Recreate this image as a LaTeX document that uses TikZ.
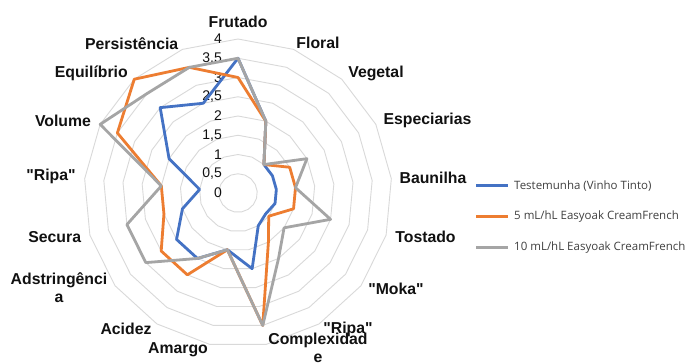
\documentclass[tikz,border=0pt]{standalone}
\usepackage{fontspec}
\setmainfont{Liberation Sans}[Ligatures=TeXOff]
\newfontfamily\legfont{Open Sans}
\definecolor{sblue}{HTML}{4472C4}
\definecolor{sorange}{HTML}{ED7D31}
\definecolor{sgray}{HTML}{A5A5A5}
\definecolor{ringc}{HTML}{D9D9D9}
\definecolor{legtext}{HTML}{404040}
\definecolor{labtext}{HTML}{111111}
\begin{document}
\begin{tikzpicture}[x=1pt,y=1pt,
  ring/.style={draw=ringc, line width=0.9pt},
  series/.style={line width=2.8pt, line join=round, line cap=round},
  axlabel/.style={font=\fontsize{15.8}{18.5}\selectfont\bfseries, align=center, inner sep=0pt, text=labtext},
  scalelabel/.style={font=\fontsize{14}{16}\selectfont, anchor=east, inner sep=0pt, text=labtext},
  legline/.style={line width=2.8pt},
  legentry/.style={font=\legfont\fontsize{11.5}{13}\selectfont, anchor=west, inner sep=0pt, text=legtext}]
\useasboundingbox (0,0) rectangle (686,362);
\fill[white] (0,0) rectangle (686,362);
\begin{scope}[shift={(238,169)}]
  % grid rings
  \foreach \r in {1,...,8}{
    \draw[ring] (90:{\r*19.25}) \foreach \k in {1,...,16}{ -- ({90-\k*360/17}:{\r*19.25})} -- cycle;
  }
  % scale labels
  \foreach \v/\t [count=\i] in {0/0, 0.5/{0,5}, 1/1, 1.5/{1,5}, 2/2, 2.5/{2,5}, 3/3, 3.5/{3,5}, 4/4}{
    \node[scalelabel] (sc\i) at (-16,{\v*38.5}) {\t};
  }
  % series coordinates
  \foreach \v [count=\k from 0] in {3.5,2,1,1,1,1,0.9,1,2,1.5,2,2,1.5,1,2,3,2.5}{
    \coordinate (B\k) at ({90-\k*360/17}:{\v*38.5});
  }
  \foreach \v [count=\k from 0] in {3,2,1,1.5,1.5,1.5,1,1.5,3.5,1.5,2.5,2.5,2,2,3.5,4,3.5}{
    \coordinate (O\k) at ({90-\k*360/17}:{\v*38.5});
  }
  \foreach \v [count=\k from 0] in {3.5,2,1,2,1.5,2.5,1.5,2,3.5,1.5,2,3,3,2,4,3.5,3.5}{
    \coordinate (G\k) at ({90-\k*360/17}:{\v*38.5});
  }
  \draw[series, sblue] (B0) \foreach \k in {1,...,16}{ -- (B\k)} -- cycle;
  \draw[series, sorange] (O0) \foreach \k in {1,...,16}{ -- (O\k)} -- cycle;
  \draw[series, sgray] (G0) \foreach \k in {1,...,16}{ -- (G\k)} -- cycle;
\end{scope}
% axis labels
\node[axlabel] (lab0) at (238,340) {Frutado};
\node[axlabel] (lab1) at (318,318.7) {Floral};
\node[axlabel] (lab2) at (376,288.7) {Vegetal};
\node[axlabel] (lab3) at (427.5,241.3) {Especiarias};
\node[axlabel] (lab4) at (433,183.7) {Baunilha};
\node[axlabel] (lab5) at (425.5,125.3) {Tostado};
\node[axlabel] (lab6) at (396,72.7) {"Moka"};
\node[axlabel] (lab7) at (348,33) {"Ripa"};
\node[axlabel, anchor=north] (lab8) at (318,29.5) {Complexidad\\e};
\node[axlabel] (lab9) at (178,12) {Amargo};
\node[axlabel] (lab10) at (126,33) {Acidez};
\node[axlabel, anchor=north] (lab11) at (59,89.5) {Adstringênci\\a};
\node[axlabel] (lab12) at (54.7,125.3) {Secura};
\node[axlabel] (lab13) at (51,185.3) {"Ripa"};
\node[axlabel] (lab14) at (63,241.3) {Volume};
\node[axlabel] (lab15) at (91.3,288.7) {Equilíbrio};
\node[axlabel] (lab16) at (131.7,318.7) {Persistência};
% legend
\coordinate (l1a) at (476,176.3); \coordinate (l1b) at (508,176.3);
\coordinate (l2a) at (476,145.3); \coordinate (l2b) at (508,145.3);
\coordinate (l3a) at (476,114.7); \coordinate (l3b) at (508,114.7);
\draw[legline, sblue] (l1a) -- (l1b);
\draw[legline, sorange] (l2a) -- (l2b);
\draw[legline, sgray] (l3a) -- (l3b);
\node[legentry] (t1) at (514,176.3) {Testemunha (Vinho Tinto)};
\node[legentry] (t2) at (514,145.3) {5 mL/hL Easyoak CreamFrench};
\node[legentry] (t3) at (514,114.7) {10 mL/hL Easyoak CreamFrench};
\end{tikzpicture}
\end{document}
